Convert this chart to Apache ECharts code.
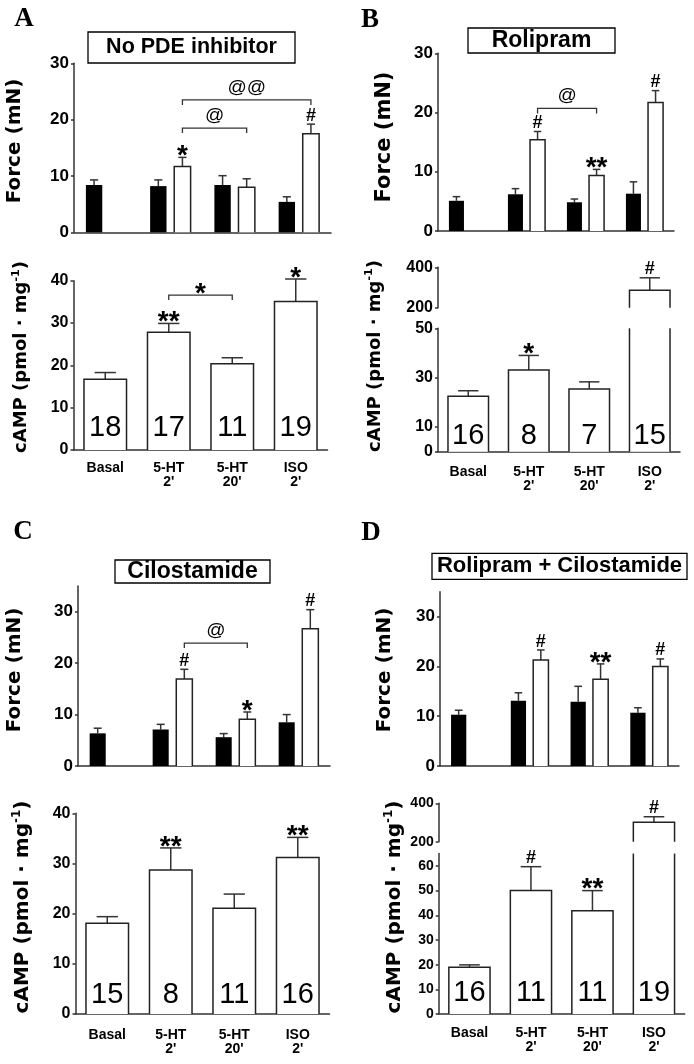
<!DOCTYPE html>
<html><head><meta charset="utf-8">
<script src="https://cdn.jsdelivr.net/npm/echarts@6/dist/echarts.min.js"></script>
<style>html,body{margin:0;padding:0;background:#fff}#c{width:694px;height:1064px}</style>
</head><body><div id="c"></div>
<script>
// ---------- data ----------
const categories = ['Basal', "5-HT\n2'", "5-HT\n20'", "ISO\n2'"];

const forceTicks = [0, 10, 20, 30];
const campTicks40 = [0, 10, 20, 30, 40];
const campTicksBreak = [200, 400];
const campTicksB = [0, 10, 30, 50];
const campTicksD = [0, 10, 20, 30, 40, 50, 60];

// Panel A: No PDE inhibitor
const forceA_ctrl = [8.4, 8.2, 8.4, 5.4];
const forceA_ctrlSem = [0.9, 1.1, 1.65, 0.9];
const forceA_drug = [null, 11.7, 8.0, 17.5];
const forceA_drugSem = [null, 1.6, 1.5, 1.7];
const forceA_marks = ['', '*', '', '#'];
const forceA_brackets = [[1, 18.5, 2, '@'], [1, 23.5, 3, '@@']];
const campA = [16.7, 27.8, 20.4, 35.1];
const campA_sem = [1.6, 2.1, 1.4, 5.3];
const campA_n = [18, 17, 11, 19];
const campA_marks = ['', '**', '', '*'];
const campA_brackets = [[1, 36.6, 2, '*']];

// Panel B: Rolipram
const forceB_ctrl = [5.1, 6.2, 4.85, 6.3];
const forceB_ctrlSem = [0.7, 0.95, 0.55, 2.0];
const forceB_drug = [null, 15.4, 9.35, 21.7];
const forceB_drugSem = [null, 1.4, 1.05, 2.0];
const forceB_marks = ['', '#', '**', '#'];
const forceB_brackets = [[1, 20.7, 2, '@']];
const campB = [22.5, 33.1, 25.4, 287];
const campB_sem = [2.2, 5.9, 2.9, 61];
const campB_n = [16, 8, 7, 15];
const campB_marks = ['', '*', '', '#'];

// Panel C: Cilostamide
const forceC_ctrl = [6.35, 7.1, 5.6, 8.5];
const forceC_ctrlSem = [1.0, 1.0, 0.7, 1.5];
const forceC_drug = [null, 16.9, 9.1, 26.7];
const forceC_drugSem = [null, 1.9, 1.4, 3.7];
const forceC_marks = ['', '#', '*', '#'];
const forceC_brackets = [[1, 23.9, 2, '@']];
const campC = [18.1, 28.7, 21.1, 31.2];
const campC_sem = [1.3, 4.4, 2.8, 4.0];
const campC_n = [15, 8, 11, 16];
const campC_marks = ['', '**', '', '**'];

// Panel D: Rolipram + Cilostamide
const forceD_ctrl = [10.3, 13.1, 12.9, 10.7];
const forceD_ctrlSem = [0.9, 1.6, 3.1, 1.0];
const forceD_drug = [null, 21.3, 17.4, 20.0];
const forceD_drugSem = [null, 2.0, 3.1, 1.5];
const forceD_marks = ['', '#', '**', '#'];
const campD = [18.9, 50.0, 41.8, 301];
const campD_sem = [1.0, 9.7, 8.2, 29];
const campD_n = [16, 11, 11, 19];
const campD_marks = ['', '#', '**', '#'];

// ---------- styles ----------
const FONT = '"Liberation Sans", Arial, Helvetica, sans-serif';
const TFONT = '"DejaVu Sans", sans-serif';
const EDGE = '#222';
const ERR = '#333';
const AXC = '#333';
const FORCE_OFF = 0.1875, FORCE_W = 0.255, CAMP_W = 0.67;

function markText(t, x, yRef, gap) {
  let font, y;
  if (t[0] === '#') { font = 'bold 18px ' + FONT; y = yRef - gap - 6.4; }
  else if (t[0] === '@') { font = '19px ' + FONT; y = yRef - gap - 10.3; }
  else { font = 'bold 28px ' + FONT; y = yRef - gap + 1.1; }
  return { type: 'text', x: x, y: y, style: { text: t, font: font, fill: '#000', align: 'center', verticalAlign: 'middle' } };
}

function barRender(offF, wF, fill, stroke) {
  return function (params, api) {
    const cs = params.coordSys;
    const i = api.value(0), v = api.value(1);
    const cw = api.size([1, 0])[0];
    const cx = api.coord([i, 0])[0] + offF * cw;
    const w = wF * cw;
    const top = cs.y, bot = cs.y + cs.height;
    let yb = api.coord([i, 0])[1], yt = api.coord([i, v])[1];
    if (yt >= bot) return null;
    const cutTop = yt < top;
    yt = Math.max(yt, top); yb = Math.min(yb, bot);
    const x0 = cx - w / 2, x1 = cx + w / 2;
    const ch = [{ type: 'rect', shape: { x: x0, y: yt, width: w, height: yb - yt }, style: { fill: fill, stroke: null } }];
    if (stroke) {
      const ls = { stroke: stroke, lineWidth: 1.5, fill: null };
      if (cutTop) {
        ch.push({ type: 'line', shape: { x1: x0, y1: yt, x2: x0, y2: yb }, style: ls });
        ch.push({ type: 'line', shape: { x1: x1, y1: yt, x2: x1, y2: yb }, style: ls });
      } else {
        ch.push({ type: 'polyline', shape: { points: [[x0, yb], [x0, yt], [x1, yt], [x1, yb]] }, style: ls });
      }
    }
    return { type: 'group', children: ch };
  };
}

function errRender(offF, wF, marks) {
  return function (params, api) {
    const cs = params.coordSys;
    const i = api.value(0), v = api.value(1), e = api.value(2);
    const cw = api.size([1, 0])[0];
    const cx = api.coord([i, v])[0] + offF * cw;
    const y1 = api.coord([i, v])[1], y2 = api.coord([i, v + e])[1];
    if (y1 < cs.y - 0.5 || y2 > cs.y + cs.height + 0.5) return null;
    const hw = wF * cw / 4;
    const ls = { stroke: ERR, lineWidth: 1.5 };
    const ch = [
      { type: 'line', shape: { x1: cx, y1: y1, x2: cx, y2: y2 }, style: ls },
      { type: 'line', shape: { x1: cx - hw, y1: y2, x2: cx + hw, y2: y2 }, style: ls }
    ];
    const m = marks ? marks[i] : '';
    if (m) ch.push(markText(m, cx, y2, 2));
    return { type: 'group', children: ch };
  };
}

function bracketRender(offF, src) {
  return function (params, api) {
    const cw = api.size([1, 0])[0];
    const lvl = api.value(1);
    const p1 = api.coord([api.value(0), lvl]), p2 = api.coord([api.value(2), lvl]);
    const xa = p1[0] + offF * cw, xb = p2[0] + offF * cw, y = p1[1];
    const lab = src[params.dataIndex][3];
    return { type: 'group', children: [
      { type: 'polyline', shape: { points: [[xa, y + 5], [xa, y], [xb, y], [xb, y + 5]] }, style: { stroke: ERR, lineWidth: 1.3, fill: null } },
      markText(lab, (xa + xb) / 2, y, 2)
    ] };
  };
}

function nRender(labels, d) {
  return function (params, api) {
    const i = api.value(0);
    const p = api.coord([i, 0]);
    return { type: 'text', x: p[0], y: p[1] - d - 10, style: { text: String(labels[i]), font: '29px ' + FONT, fill: '#000', align: 'center', verticalAlign: 'middle' } };
  };
}

const series = [];
function custom(g, data, renderItem) {
  series.push({ type: 'custom', xAxisIndex: g, yAxisIndex: g, data: data, renderItem: renderItem, silent: true, animation: false, clip: false, z: series.length + 2 });
}
function triples(vals, sems) {
  return vals.map((v, i) => v == null ? null : [i, v, sems[i]]).filter(Boolean);
}
function addForce(g, ctrl, ctrlSem, drug, drugSem, marks, brackets) {
  const cd = triples(ctrl, ctrlSem), dd = triples(drug, drugSem);
  custom(g, cd, errRender(-FORCE_OFF, FORCE_W, null));
  custom(g, dd, errRender(FORCE_OFF, FORCE_W, marks));
  custom(g, cd, barRender(-FORCE_OFF, FORCE_W, '#000', null));
  custom(g, dd, barRender(FORCE_OFF, FORCE_W, '#fff', EDGE));
  if (brackets) custom(g, brackets.map(b => [b[0], b[1], b[2]]), bracketRender(FORCE_OFF, brackets));
}
function addCamp(gs, vals, sems, marks, nLabels, nGap, brackets) {
  const dd = triples(vals, sems);
  gs.forEach(function (g, k) {
    custom(g, dd, errRender(0, CAMP_W, marks));
    custom(g, dd, barRender(0, CAMP_W, '#fff', EDGE));
    if (k === gs.length - 1) {
      custom(g, dd, nRender(nLabels, nGap));
      if (brackets) custom(g, brackets.map(b => [b[0], b[1], b[2]]), bracketRender(0, brackets));
    }
  });
}

addForce(0, forceA_ctrl, forceA_ctrlSem, forceA_drug, forceA_drugSem, forceA_marks, forceA_brackets);
addCamp([1], campA, campA_sem, campA_marks, campA_n, 12, campA_brackets);
addForce(2, forceB_ctrl, forceB_ctrlSem, forceB_drug, forceB_drugSem, forceB_marks, forceB_brackets);
addCamp([3, 4], campB, campB_sem, campB_marks, campB_n, 6, null);
addForce(5, forceC_ctrl, forceC_ctrlSem, forceC_drug, forceC_drugSem, forceC_marks, forceC_brackets);
addCamp([6], campC, campC_sem, campC_marks, campC_n, 9, null);
addForce(7, forceD_ctrl, forceD_ctrlSem, forceD_drug, forceD_drugSem, forceD_marks, null);
addCamp([8, 9], campD, campD_sem, campD_marks, campD_n, 11, null);

// ---------- layout ----------
const grids = [
  { left: 74, top: 63.3, width: 257, height: 169 },       // A force
  { left: 73.5, top: 280.7, width: 254, height: 169.3 },  // A cAMP
  { left: 438, top: 53.3, width: 236, height: 177.7 },    // B force
  { left: 438, top: 267.3, width: 242, height: 40.4 },    // B cAMP upper
  { left: 438, top: 328.3, width: 242, height: 123.4 },   // B cAMP lower
  { left: 78, top: 586, width: 252, height: 180 },        // C force
  { left: 75.5, top: 813.3, width: 254, height: 200.7 },  // C cAMP
  { left: 440, top: 591.7, width: 239, height: 174.3 },   // D force
  { left: 438.7, top: 803.3, width: 246, height: 38.4 },  // D cAMP upper
  { left: 438.7, top: 853.6, width: 246, height: 160.4 }  // D cAMP lower
].map(g => Object.assign({ containLabel: false, outerBoundsMode: 'none' }, g));

function xAx(g, line, labelMargin) {
  return {
    type: 'category', gridIndex: g, data: categories, boundaryGap: true,
    axisLine: { show: line, lineStyle: { color: AXC, width: 1.5 } },
    axisTick: { show: false },
    axisLabel: { show: labelMargin != null, interval: 0, margin: labelMargin || 8, fontSize: 14, fontWeight: 'bold', lineHeight: 14, color: '#000', fontFamily: FONT },
    splitLine: { show: false }
  };
}
function yAx(g, min, max, ticks, fs) {
  return {
    type: 'value', gridIndex: g, min: min, max: max,
    axisLine: { show: true, lineStyle: { color: AXC, width: 1.5 } },
    axisTick: { show: true, length: 3, inside: false, customValues: ticks, lineStyle: { color: AXC, width: 1.5 } },
    axisLabel: { customValues: ticks, fontSize: fs, fontWeight: 'bold', color: '#000', margin: 5, fontFamily: FONT },
    splitLine: { show: false }
  };
}

const xAxes = [
  xAx(0, true, null), xAx(1, true, 11), xAx(2, true, null), xAx(3, false, null), xAx(4, true, 13),
  xAx(5, true, null), xAx(6, true, 14), xAx(7, true, null), xAx(8, false, null), xAx(9, true, 12)
];
const yAxes = [
  yAx(0, 0, 30, forceTicks, 17), yAx(1, 0, 40, campTicks40, 16), yAx(2, 0, 30, forceTicks, 17),
  yAx(3, 200, 400, campTicksBreak, 16), yAx(4, 0, 50, campTicksB, 16),
  yAx(5, 0, 35, forceTicks, 17), yAx(6, 0, 40, campTicks40, 16), yAx(7, 0, 35, forceTicks, 17),
  yAx(8, 200, 400, campTicksBreak, 14), yAx(9, 0, 65, campTicksD, 14)
];

function letter(t, x, y) {
  return { type: 'text', x: x, y: y, style: { text: t, font: 'bold 27px "Liberation Serif", "Times New Roman", serif', fill: '#000', align: 'center', verticalAlign: 'middle' } };
}
function titleBox(t, x, y, w, h, fs) {
  return [
    { type: 'rect', shape: { x: x, y: y, width: w, height: h }, style: { fill: '#fff', stroke: '#000', lineWidth: 1.3 } },
    { type: 'text', x: x + w / 2, y: y + h / 2, style: { text: t, font: 'bold ' + fs + 'px ' + FONT, fill: '#000', align: 'center', verticalAlign: 'middle' } }
  ];
}
function forceTitle(x, y, fs) {
  return { type: 'text', x: x, y: y, rotation: Math.PI / 2, style: { text: 'Force (mN)', font: 'bold ' + fs + 'px ' + TFONT, fill: '#000', align: 'center', verticalAlign: 'middle' } };
}
function campTitle(x, y, fs) {
  return { type: 'text', x: x, y: y, rotation: Math.PI / 2, style: {
    text: '{a|cAMP (pmol · mg}{s|-1}{a|)}', align: 'center', verticalAlign: 'middle', fill: '#000',
    rich: {
      a: { fontSize: fs, fontWeight: 'bold', fontFamily: TFONT, lineHeight: fs + 4, fill: '#000' },
      s: { fontSize: Math.round(fs * 0.62), fontWeight: 'bold', fontFamily: TFONT, lineHeight: 12, verticalAlign: 'top', fill: '#000' }
    } } };
}

const graphics = [].concat(
  [letter('A', 24, 19), letter('B', 370, 20), letter('C', 23, 532), letter('D', 371, 533)],
  titleBox('No PDE inhibitor', 88, 32, 207, 31, 21.5),
  titleBox('Rolipram', 468, 28, 147, 25, 23),
  titleBox('Cilostamide', 115, 560, 155, 23, 23),
  titleBox('Rolipram + Cilostamide', 432, 553.3, 255, 26, 22),
  [forceTitle(15, 141, 20), forceTitle(385, 137, 21), forceTitle(15, 670, 20), forceTitle(385, 670, 20)],
  [campTitle(21.5, 357, 18), campTitle(375, 356, 18), campTitle(22.5, 907, 20), campTitle(394.5, 907, 20)]
);

const chart = echarts.init(document.getElementById('c'), null, { renderer: 'canvas', width: 694, height: 1064 });
chart.setOption({
  animation: false,
  backgroundColor: '#fff',
  grid: grids,
  xAxis: xAxes,
  yAxis: yAxes,
  series: series,
  graphic: graphics
});
</script>
</body></html>
